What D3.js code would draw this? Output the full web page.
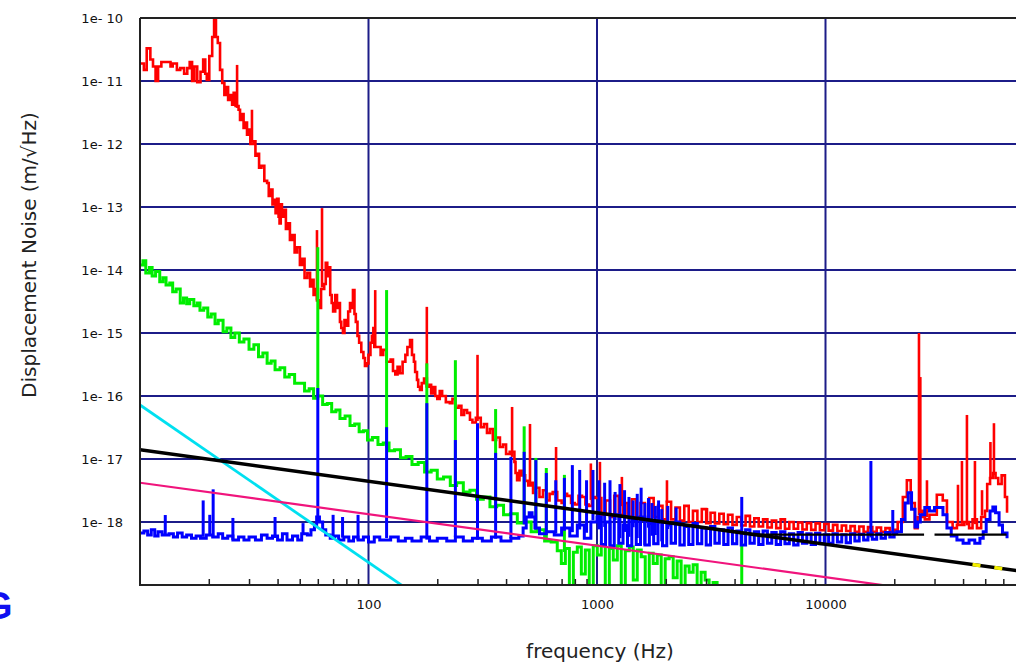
<!DOCTYPE html>
<html>
<head>
<meta charset="utf-8">
<script src="https://cdn.jsdelivr.net/npm/d3@7"></script>
<style>
  body { margin: 0; background: #fff; }
  svg { display: block; }
</style>
</head>
<body>
<div id="chart"></div>
<script>
// axis ticks
const yTicks = [1e-10, 1e-11, 1e-12, 1e-13, 1e-14, 1e-15, 1e-16, 1e-17, 1e-18];
const yTickLabels = ["1e- 10", "1e- 11", "1e- 12", "1e- 13", "1e- 14", "1e- 15", "1e- 16", "1e- 17", "1e- 18"];
const xTicks = [100, 1000, 10000];
const xTickLabels = ["100", "1000", "10000"];
const xMinor = [20, 30, 40, 50, 60, 70, 80, 90, 200, 300, 400, 500, 600, 700, 800, 900,
    2000, 3000, 4000, 5000, 6000, 7000, 8000, 9000, 20000, 30000, 40000, 50000, 60000];

// measured spectra, [frequency Hz, m/sqrt(Hz)]
const redPoints = [
    [10, 1.9e-11], [10.4, 1.5e-11], [10.7, 3.3e-11], [11.1, 2.2e-11], [11.4, 1.7e-11], [11.7, 1.0e-11],
    [12.0, 1.7e-11], [12.4, 2.0e-11], [13.1, 2.0e-11], [13.6, 1.7e-11], [13.9, 1.9e-11], [14.5, 1.5e-11],
    [15.0, 1.6e-11], [15.6, 1.3e-11], [16.1, 1.6e-11], [16.5, 2.0e-11], [16.9, 1.0e-11], [17.3, 1.7e-11],
    [17.8, 9.6e-12], [18.4, 1.4e-11], [18.9, 2.2e-11], [19.3, 1.3e-11], [19.6, 1.04e-11], [20.1, 2.5e-11],
    [20.7, 5e-11], [21.1, 1e-10], [21.5, 5e-11], [21.9, 4e-11], [22.4, 1.5e-11], [22.9, 9.3e-12],
    [23.4, 6e-12], [23.8, 8e-12], [24.3, 5e-12], [24.8, 6e-12], [25.3, 4.2e-12], [25.7, 6.5e-12],
    [26.2, 4e-12], [27.0, 3.5e-12], [27.4, 2.4e-12], [27.9, 3e-12], [28.4, 1.8e-12], [28.9, 2.2e-12],
    [29.4, 1.4e-12], [29.9, 1.7e-12], [30.4, 1.0e-12], [31.5, 1.1e-12], [32.0, 6.5e-13], [32.5, 7e-13],
    [33.2, 4.2e-13], [34, 4.5e-13], [35, 2.6e-13], [36, 2.4e-13], [36.6, 1.5e-13], [37.2, 1.9e-13],
    [38.0, 1.1e-13], [38.5, 1.3e-13], [39.2, 8e-14], [39.8, 1.35e-13], [40.4, 7e-14], [40.8, 5.5e-14],
    [41.3, 1.1e-13], [41.8, 7e-14], [42.5, 9e-14], [43.5, 4.5e-14], [44.3, 5.5e-14], [45.3, 3e-14],
    [46.3, 3.6e-14], [47.5, 1.9e-14], [48.7, 2.3e-14], [50.1, 1.2e-14], [51.3, 1.5e-14], [52.5, 7.5e-15],
    [54, 9e-15], [55.5, 5.5e-15], [56.5, 7e-15], [57.5, 4e-15], [58.5, 5e-15], [59.5, 3.3e-15],
    [61, 2.5e-15], [62, 5e-15], [64, 6e-15], [65, 1.3e-14], [66, 8e-15], [67, 1.1e-14],
    [68, 4e-15], [69, 3e-15], [70, 2.2e-15], [71.5, 4e-15], [72.8, 2.5e-15], [74, 3e-15],
    [75, 1.5e-15], [76, 1.2e-15], [77.3, 1.0e-15], [78.5, 1.6e-15], [80, 1.3e-15], [81.5, 2.2e-15],
    [83, 3e-15], [84.3, 2.5e-15], [85.5, 4.8e-15], [86.8, 2e-15], [88, 1.5e-15], [89.5, 9e-16],
    [91, 7e-16], [93, 5e-16], [95, 4e-16], [96.5, 3e-16], [98.4, 3.3e-16], [100, 4.5e-16],
    [102, 7e-16], [103.5, 9e-16], [105, 1.2e-15], [106, 6e-16], [110, 6e-16], [113, 4.5e-16],
    [116, 5.4e-16], [120, 3.5e-16], [125, 3.8e-16], [128, 2.5e-16], [131, 2.2e-16], [134, 2.9e-16],
    [137, 2.3e-16], [141, 3.5e-16], [145, 4.5e-16], [148, 6e-16], [152, 7.7e-16], [155, 4.5e-16],
    [158, 3.5e-16], [160, 2.4e-16], [163, 1.8e-16], [165, 1.4e-16], [168, 1.25e-16], [171, 1.6e-16],
    [175, 1.9e-16], [180, 1.4e-16], [185, 1.5e-16], [188, 1.1e-16], [191, 1.39e-16], [196, 1.0e-16],
    [200, 9e-17], [205, 1.2e-16], [210, 1e-16], [218, 8e-17], [227, 7.7e-17], [233, 9e-17],
    [240, 6.5e-17], [248, 7e-17], [255, 5e-17], [262, 6e-17], [270, 5.4e-17], [278, 4.2e-17],
    [285, 3.8e-17], [295, 4.5e-17], [310, 3.2e-17], [320, 3.6e-17], [330, 2.6e-17], [340, 3e-17],
    [350, 2.0e-17], [362, 2.2e-17], [376, 1.55e-17], [388, 1.7e-17], [400, 1.2e-17], [415, 1.3e-17],
    [435, 9e-18], [440, 6e-18], [447, 4.6e-18], [458, 6.5e-18], [470, 5.5e-18], [485, 4.5e-18],
    [500, 3.8e-18], [512, 4.2e-18], [525, 2.9e-18], [540, 3.5e-18], [560, 2.5e-18], [580, 3.2e-18],
    [600, 2.2e-18], [620, 2.8e-18], [640, 3e-18], [670, 2.2e-18], [700, 2.0e-18], [720, 2.8e-18],
    [740, 2.6e-18], [770, 2e-18], [800, 1.9e-18], [830, 2.6e-18], [860, 2.5e-18], [890, 1.9e-18],
    [920, 1.8e-18], [950, 2.5e-18], [980, 2.4e-18],
    [1000, 2.4e-18], [1045, 1.3e-18], [1090, 2.2e-18], [1140, 1.2e-18], [1190, 2.6e-18], [1245, 1.3e-18],
    [1300, 2.0e-18], [1360, 1.2e-18], [1420, 2.3e-18], [1485, 1.2e-18], [1550, 2.0e-18], [1620, 1.1e-18],
    [1695, 2.4e-18], [1770, 1.2e-18], [1850, 1.8e-18], [1935, 1.1e-18], [2020, 2.1e-18], [2110, 1.1e-18],
    [2205, 1.7e-18], [2305, 1.05e-18], [2410, 1.8e-18], [2520, 1.0e-18], [2630, 1.5e-18], [2750, 1.0e-18],
    [2875, 1.6e-18], [3005, 9.6e-19], [3140, 1.4e-18], [3280, 9.5e-19], [3430, 1.35e-18], [3585, 9.2e-19],
    [3745, 1.3e-18], [3915, 9e-19], [4090, 1.2e-18], [4275, 8.8e-19], [4470, 1.25e-18], [4670, 8.5e-19],
    [4880, 1.15e-18], [5100, 8.5e-19], [5330, 1.1e-18], [5570, 8.2e-19], [5820, 1.05e-18], [6085, 8e-19],
    [6360, 1.1e-18], [6645, 7.8e-19], [6945, 1.0e-18], [7255, 7.8e-19], [7585, 9.8e-19], [7925, 7.6e-19],
    [8280, 9.6e-19], [8655, 7.5e-19], [9045, 9.5e-19], [9450, 7.4e-19], [9875, 9.3e-19], [10320, 7.3e-19],
    [10785, 9e-19], [11270, 7.2e-19], [11780, 8.8e-19], [12310, 7.2e-19], [12860, 8.6e-19], [13440, 7e-19],
    [14045, 8.5e-19], [14680, 7e-19], [15340, 8.3e-19], [16030, 7e-19], [16750, 8.2e-19], [17505, 7e-19],
    [18290, 8e-19], [19115, 7e-19], [19975, 7.5e-19],
    [20700, 1.0e-18], [21800, 2.5e-18], [22700, 4.6e-18], [23600, 2e-18], [24600, 8e-19], [25300, 1.2e-18],
    [26500, 1.5e-18], [27200, 1.1e-18], [28500, 1.3e-18], [30700, 2.7e-18], [32600, 2.2e-18], [34000, 1.0e-18],
    [36000, 8e-19], [37600, 9e-19], [39000, 9e-19], [40500, 1.0e-18], [42500, 8e-19], [44000, 1.1e-18],
    [46000, 8e-19], [48000, 1.2e-18], [49900, 1.5e-18], [51000, 4e-18], [52500, 5e-18], [54000, 6e-18],
    [55500, 5e-18], [57000, 4e-18], [59000, 5.5e-18], [61000, 2.5e-18], [62300, 1.4e-18]
];
const redSpikes = [
    [26.6, 1.8e-11], [30.9, 3.5e-12], [59.5, 4.3e-14], [62.6, 9.6e-14], [107, 4.8e-15], [180, 2.6e-15],
    [300, 4.5e-16], [425, 6.7e-17], [509, 3.6e-17], [662, 1.55e-17], [940, 8.5e-18], [1030, 9e-18],
    [1285, 5.2e-18], [2024, 4.6e-18], [3030, 1.67e-18], [25650, 1e-15], [26000, 2e-16], [27800, 4.6e-18],
    [38000, 3.9e-18], [39550, 9.3e-18], [41590, 5e-17], [45080, 9.3e-18], [48420, 3.2e-18],
    [52700, 1.86e-17], [54600, 3.7e-17]
];

const greenPoints = [
    [10, 1.2e-14], [10.3, 1.4e-14], [10.6, 9e-15], [11.0, 1.1e-14], [11.3, 8e-15], [11.7, 9.5e-15],
    [12.2, 6.5e-15], [12.6, 7.5e-15], [13.0, 5.8e-15], [13.5, 6.2e-15], [13.9, 4.5e-15], [14.4, 5e-15],
    [15.0, 3.0e-15], [15.5, 3.6e-15], [16.0, 2.9e-15], [16.5, 3.4e-15], [17.2, 2.7e-15], [17.8, 3.0e-15],
    [18.3, 2.3e-15], [19.0, 2.5e-15], [19.8, 1.8e-15], [20.5, 2.0e-15], [21.3, 1.4e-15], [22.0, 1.6e-15],
    [23.1, 1.05e-15], [24.0, 1.2e-15], [25.0, 8.5e-16], [26.0, 1.0e-15], [27.2, 7.2e-16], [28.5, 8e-16],
    [30.0, 5.5e-16], [31.5, 6.5e-16], [33.0, 4.2e-16], [34.5, 4.8e-16], [36.0, 3.3e-16], [37.5, 3.6e-16],
    [39.0, 2.6e-16], [41.0, 2.8e-16], [43.0, 2.0e-16], [45.0, 2.2e-16], [47.5, 1.6e-16], [50.0, 1.6e-16],
    [52.5, 1.2e-16], [55.0, 1.3e-16], [57.5, 9.2e-17], [60, 1.0e-16], [63, 7.3e-17], [66, 7.6e-17],
    [69, 5.6e-17], [72, 6e-17], [75, 4.4e-17], [79, 4.8e-17], [83, 3.4e-17], [87, 3.6e-17],
    [91, 2.7e-17], [95, 2.8e-17], [99, 2.0e-17], [104, 2.2e-17], [110, 1.7e-17], [116, 1.8e-17],
    [123, 1.35e-17], [130, 1.4e-17], [138, 1.05e-17], [146, 1.1e-17], [155, 8.2e-18], [165, 8.8e-18],
    [176, 6.2e-18], [188, 6.6e-18], [200, 4.8e-18], [213, 5.2e-18], [228, 3.8e-18], [243, 4.2e-18],
    [260, 3.0e-18], [278, 3.2e-18], [297, 2.3e-18], [318, 2.5e-18], [340, 1.75e-18], [364, 1.85e-18],
    [390, 1.3e-18], [418, 1.35e-18], [448, 9.6e-19], [480, 1.0e-18], [515, 7e-19], [550, 7.5e-19],
    [590, 5e-19], [630, 4.8e-19], [670, 3.5e-19], [698, 2.2e-19], [727, 3.8e-19], [757, 5e-20],
    [788, 3.3e-19], [820, 4e-19], [854, 1.5e-19], [889, 3.6e-19], [925, 5e-20], [963, 4.2e-19],
    [1003, 3e-19], [1044, 4.4e-19], [1087, 5e-20], [1132, 3.8e-19], [1178, 2.5e-19], [1227, 4.2e-19],
    [1277, 5e-20], [1330, 3.5e-19], [1384, 4e-19], [1441, 1.2e-19], [1500, 3.6e-19], [1562, 2.8e-19],
    [1626, 5e-20], [1693, 3.2e-19], [1762, 2.2e-19], [1835, 3e-19], [1910, 5e-20], [1988, 2.6e-19],
    [2070, 2.8e-19], [2155, 1.3e-19], [2243, 2.4e-19], [2335, 5e-20], [2431, 2.0e-19], [2531, 1.6e-19],
    [2635, 2.1e-19], [2743, 5e-20], [2856, 1.6e-19], [2973, 1.2e-19], [3095, 5e-20], [3222, 1.1e-19],
    [3354, 5e-20], [3492, 3e-20]
];
const greenSpikes = [
    [60, 2.3e-14], [120, 4.8e-15], [180, 3.3e-16], [240, 3.7e-16], [360, 6.2e-17], [480, 3.3e-17],
    [540, 1.04e-17], [600, 7.2e-18], [720, 5.6e-18], [4300, 4.6e-19]
];

const bluePoints = [
    [10, 6.7e-19], [10.4, 7.2e-19], [10.8, 6.2e-19], [11.2, 7.5e-19], [11.6, 6.0e-19], [12.0, 7e-19],
    [12.5, 6.2e-19], [13.4, 6.5e-19], [14.0, 5.8e-19], [14.6, 6.7e-19], [15.3, 5.8e-19], [16.0, 6.2e-19],
    [16.8, 5.5e-19], [17.6, 6e-19], [18.4, 5.5e-19], [19.5, 6.2e-19], [20.8, 5.8e-19], [22, 6.5e-19],
    [23, 5.5e-19], [24.2, 6e-19], [25.5, 5.2e-19], [27, 5.8e-19], [28.5, 5.2e-19], [30, 5.8e-19],
    [32, 5.2e-19], [34, 6.2e-19], [36, 5.5e-19], [38, 6e-19], [40, 5.2e-19], [42, 6.5e-19],
    [44, 5.2e-19], [46.5, 6e-19], [49, 5.2e-19], [51, 6.5e-19], [54, 6.2e-19], [56, 7.5e-19],
    [58, 9e-19], [59.3, 1.2e-18], [61, 1.0e-18], [63, 7.5e-19], [65, 6.2e-19], [68, 5.5e-19],
    [71, 6e-19], [74, 5.2e-19], [78, 5.8e-19], [82, 5e-19], [86, 5.8e-19], [90, 5.2e-19],
    [95, 5.8e-19], [100, 4.8e-19], [106, 5.8e-19], [112, 5.2e-19], [125, 5.8e-19], [135, 5e-19],
    [145, 5.5e-19], [155, 5e-19], [170, 5.8e-19], [185, 5e-19], [200, 5.5e-19], [220, 5e-19],
    [240, 5.8e-19], [260, 5e-19], [285, 5.5e-19], [315, 5e-19], [345, 5.8e-19], [380, 5e-19],
    [420, 5.5e-19], [455, 6e-19], [475, 8e-19], [490, 1.2e-18], [505, 1.4e-18], [520, 1.2e-18],
    [535, 8e-19], [560, 6.5e-19], [600, 7e-19], [650, 6.2e-19], [700, 8e-19], [760, 6e-19],
    [820, 9e-19], [880, 5.5e-19], [940, 1.0e-18],
    [1000, 1.2e-18], [1045, 4.4e-19], [1090, 1.0e-18], [1140, 4.2e-19], [1190, 1.3e-18], [1245, 4.6e-19],
    [1300, 9e-19], [1360, 4.2e-19], [1420, 1.1e-18], [1485, 4.4e-19], [1550, 1.2e-18], [1620, 4.3e-19],
    [1695, 9.5e-19], [1770, 4.5e-19], [1850, 1.05e-18], [1935, 4.2e-19], [2020, 9e-19], [2110, 4.6e-19],
    [2205, 1.0e-18], [2305, 4.3e-19], [2410, 8.5e-19], [2520, 4.4e-19], [2630, 9.5e-19], [2750, 4.5e-19],
    [2875, 8e-19], [3005, 4.3e-19], [3140, 8.5e-19], [3280, 4.6e-19], [3430, 7.5e-19], [3585, 4.4e-19],
    [3745, 8e-19], [3915, 4.5e-19], [4090, 7.2e-19], [4275, 4.3e-19], [4470, 7.5e-19], [4670, 4.6e-19],
    [4880, 7e-19], [5100, 4.4e-19], [5330, 7.2e-19], [5570, 4.6e-19], [5820, 6.8e-19], [6085, 4.4e-19],
    [6360, 7e-19], [6645, 4.5e-19], [6945, 6.5e-19], [7255, 4.3e-19], [7585, 6.8e-19], [7925, 4.6e-19],
    [8280, 6.5e-19], [8655, 4.4e-19], [9045, 6.6e-19], [9450, 4.5e-19], [9875, 6.3e-19], [10320, 4.6e-19],
    [10785, 6.5e-19], [11270, 4.8e-19], [11780, 6.3e-19], [12310, 4.7e-19], [12860, 6.5e-19], [13440, 5e-19],
    [14045, 6.4e-19], [14680, 5.2e-19], [15340, 6.6e-19], [16030, 5.3e-19], [16750, 6.5e-19], [17505, 5.5e-19],
    [18290, 6.8e-19], [19115, 5.8e-19], [19975, 6.7e-19],
    [20500, 7e-19], [21500, 1.1e-18], [22300, 2e-18], [23000, 2.9e-18], [23800, 1.6e-18], [24650, 8.3e-19],
    [25300, 1.0e-18], [26000, 1.3e-18], [27200, 1.7e-18], [28500, 1.5e-18], [30000, 1.7e-18], [31500, 1.7e-18],
    [32660, 1.3e-18], [34000, 8e-19], [35500, 6e-19], [37600, 5.2e-19], [40000, 4.6e-19], [42500, 5.2e-19],
    [45000, 4.6e-19], [47400, 5.5e-19], [49000, 7e-19], [50500, 1.1e-18], [52500, 1.5e-18], [54000, 1.73e-18],
    [55500, 1.4e-18], [57500, 9e-19], [59500, 6.7e-19], [62300, 5.5e-19]
];
const blueSpikes = [
    [12.9, 1.29e-18], [18.9, 2.2e-18], [20.2, 1.3e-18], [20.9, 3.3e-18], [25.5, 1.16e-18], [39, 1.2e-18],
    [51.7, 9.6e-19], [60, 1.34e-16], [70, 1.3e-18], [77, 1.2e-18], [90, 1.3e-18],
    [120, 3.2e-17], [180, 7.7e-17], [240, 2.0e-17], [300, 3.7e-17], [360, 1.25e-17], [420, 1.08e-17],
    [480, 1.3e-17], [540, 9.6e-18], [600, 6e-18], [660, 4.6e-18], [720, 5e-18], [780, 8e-18],
    [840, 6.7e-18], [900, 4.6e-18], [960, 6.7e-18], [1020, 4.6e-18], [1080, 4.2e-18], [1140, 4.6e-18],
    [1200, 3e-18], [1260, 4e-18], [1320, 3.2e-18], [1380, 2.5e-18], [1440, 2.2e-18], [1500, 2.8e-18],
    [1560, 3.5e-18], [1620, 2e-18], [1680, 2.4e-18], [1740, 2e-18], [1800, 1.8e-18], [1860, 2.2e-18],
    [1920, 1.6e-18], [2040, 1.8e-18], [2220, 1.7e-18], [4300, 2.5e-18], [15800, 9.3e-18], [19700, 1.55e-18]
];

// model noise curves, [frequency Hz, m/sqrt(Hz)]
const cyanLine = [[10, 7.2e-17], [150, 8.3e-20]];
const pinkLine = [[10, 4.2e-18], [20000, 9.4e-20]];
const blackLine = [[10, 1.4e-17], [100000, 1.4e-19]];
const yellowLine = [[44000, 2.11e-19], [100000, 1.4e-19]];
const flatLines = [
    [[4700, 6.3e-19], [27000, 6.3e-19]],
    [[30000, 6.3e-19], [62000, 6.3e-19]]
];

const width = 1016, height = 663;
const plotLeft = 140, plotTop = 18, plotBottom = 585;

const x = d3.scaleLog().domain([10, 100000]).range([plotLeft, plotLeft + 4 * 228.5]);
const y = d3.scaleLog().domain([1e-19, 1e-10]).range([plotBottom, plotTop]);

const svg = d3.select("#chart").append("svg")
    .attr("width", width)
    .attr("height", height);

svg.append("defs").append("clipPath")
    .attr("id", "plot-clip")
    .append("rect")
    .attr("x", plotLeft).attr("y", plotTop)
    .attr("width", width - plotLeft).attr("height", plotBottom - plotTop);

// grid
const grid = svg.append("g").attr("stroke", "#1c1c88").attr("stroke-width", 2);
grid.selectAll(".hgrid")
    .data(yTicks.slice(1))
    .enter().append("line")
    .attr("x1", plotLeft).attr("x2", width)
    .attr("y1", d => y(d)).attr("y2", d => y(d));
grid.selectAll(".vgrid")
    .data(xTicks)
    .enter().append("line")
    .attr("y1", plotTop).attr("y2", plotBottom)
    .attr("x1", d => x(d)).attr("x2", d => x(d));

const plot = svg.append("g").attr("clip-path", "url(#plot-clip)");

// the spectra are drawn as steps, like the bin-by-bin trace of the analyser
const stepLine = d3.line()
    .curve(d3.curveStepAfter)
    .x(d => x(d[0]))
    .y(d => y(d[1]));

const line = d3.line()
    .x(d => x(d[0]))
    .y(d => y(d[1]));

// value of a series at f, interpolated in log-log
function valueAt(points, f) {
    let i = d3.bisector(d => d[0]).right(points, f);
    if (i <= 0) return points[0][1];
    if (i >= points.length) return points[points.length - 1][1];
    let a = points[i - 1], b = points[i];
    let t = Math.log(f / a[0]) / Math.log(b[0] / a[0]);
    return Math.exp(Math.log(a[1]) + t * Math.log(b[1] / a[1]));
}

function drawSeries(points, spikes, color, lw) {
    plot.append("path")
        .datum(points)
        .attr("fill", "none")
        .attr("stroke", color)
        .attr("stroke-width", lw)
        .attr("d", stepLine);

    plot.selectAll(null)
        .data(spikes)
        .enter().append("line")
        .attr("stroke", color)
        .attr("stroke-width", lw)
        .attr("x1", d => x(d[0])).attr("x2", d => x(d[0]))
        .attr("y1", d => y(valueAt(points, d[0])))
        .attr("y2", d => y(d[1]));
}

drawSeries(redPoints, redSpikes, "#ff0000", 2.6);
drawSeries(greenPoints, greenSpikes, "#00ee00", 3);
drawSeries(bluePoints, blueSpikes, "#0000ff", 3);

function drawModel(points, color, lw, dash) {
    plot.append("path")
        .datum(points)
        .attr("fill", "none")
        .attr("stroke", color)
        .attr("stroke-width", lw)
        .attr("stroke-dasharray", dash || null)
        .attr("d", line);
}

drawModel(cyanLine, "#00e0f0", 2.8);
drawModel(pinkLine, "#f0147c", 2.2);
flatLines.forEach(seg => drawModel(seg, "#000", 2.2));
drawModel(blackLine, "#000", 3.6);
drawModel(yellowLine, "#f4f000", 3.6, "8,14");

// frame
const frame = svg.append("g").attr("stroke", "#222").attr("stroke-width", 2);
frame.append("line").attr("x1", plotLeft).attr("x2", width).attr("y1", plotTop).attr("y2", plotTop);
frame.append("line").attr("x1", plotLeft).attr("x2", plotLeft).attr("y1", plotTop).attr("y2", plotBottom);
frame.append("line").attr("x1", plotLeft - 1).attr("x2", width).attr("y1", plotBottom).attr("y2", plotBottom);

// minor ticks on the frequency axis
svg.append("g")
    .attr("transform", "translate(0," + plotBottom + ")")
    .call(d3.axisBottom(x).tickValues(xMinor).tickSize(-6).tickFormat(""))
    .call(g => g.select(".domain").remove())
    .selectAll("line").attr("stroke", "#222").attr("stroke-width", 1.5);

// tick labels
svg.append("g")
    .attr("transform", "translate(0," + plotBottom + ")")
    .call(d3.axisBottom(x).tickValues(xTicks).tickSize(0).tickPadding(15)
        .tickFormat((d, i) => xTickLabels[i]))
    .call(g => g.select(".domain").remove())
    .attr("font-family", "DejaVu Sans")
    .attr("font-size", 13)
    .selectAll("text").attr("fill", "#111");

svg.append("g")
    .attr("transform", "translate(" + plotLeft + ",0)")
    .call(d3.axisLeft(y).tickValues(yTicks).tickSize(0).tickPadding(17)
        .tickFormat((d, i) => yTickLabels[i]))
    .call(g => g.select(".domain").remove())
    .attr("font-family", "DejaVu Sans")
    .attr("font-size", 13)
    .selectAll("text").attr("fill", "#111");

// axis titles
svg.append("text")
    .attr("x", 600).attr("y", 658)
    .attr("text-anchor", "middle")
    .attr("font-family", "DejaVu Sans")
    .attr("font-size", 20)
    .attr("fill", "#222")
    .text("frequency (Hz)");

svg.append("text")
    .attr("transform", "translate(36,255) rotate(-90)")
    .attr("text-anchor", "middle")
    .attr("font-family", "DejaVu Sans")
    .attr("font-size", 20)
    .attr("fill", "#222")
    .text("Displacement Noise (m/\u221AHz)");

// stray heading letter cut off at the left edge, as in the source image
svg.append("text")
    .attr("x", -17).attr("y", 619)
    .attr("font-family", "Liberation Sans")
    .attr("font-weight", "bold")
    .attr("font-size", 38)
    .attr("fill", "#1010f0")
    .text("G");
</script>
</body>
</html>
